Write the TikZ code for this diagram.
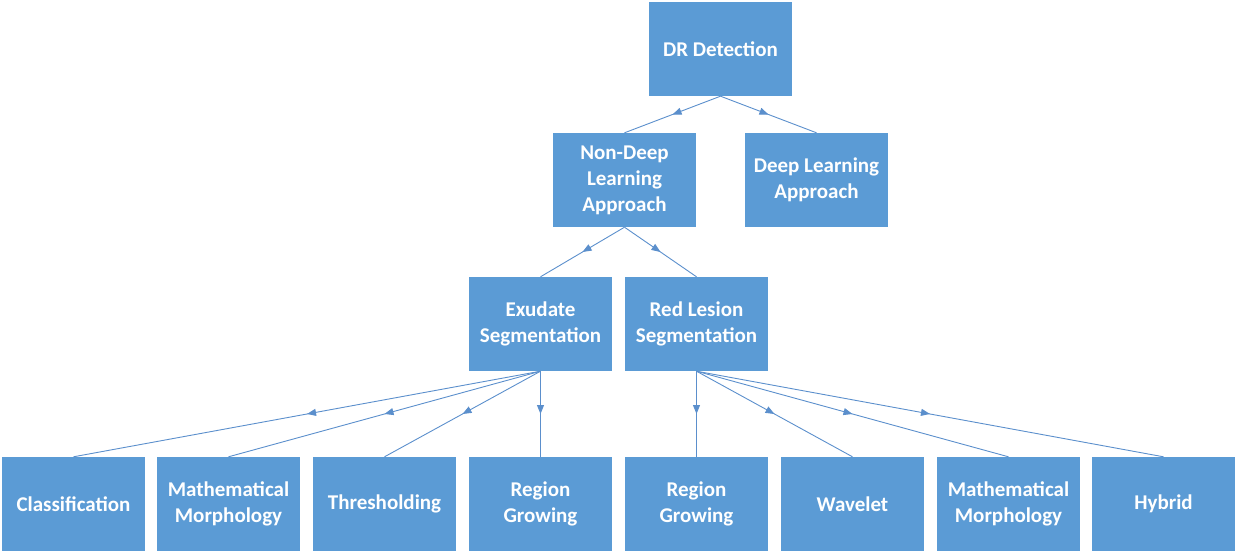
\documentclass[tikz,border=0pt]{standalone}
\usepackage{fontspec}
\setmainfont{Carlito}
\usetikzlibrary{arrows.meta, decorations.markings}
\definecolor{boxblue}{HTML}{5B9BD5}
\definecolor{lineblue}{HTML}{5B8FCC}

\begin{document}
\begin{tikzpicture}[x=1pt, y=-1pt,
  box/.style={fill=boxblue, draw=none, align=center, inner sep=0pt, minimum width=143pt, minimum height=94pt, text=white, font=\fontsize{21}{26}\selectfont\bfseries},
  link/.style={draw=lineblue, line width=0.9pt, postaction={decorate}, decoration={markings, mark=at position 0.5 with {\arrow[lineblue]{Triangle[length=9pt, width=7pt]}}}}]
\useasboundingbox (0,0) rectangle (1237,553);

%Root
\node (dr) at (720.5,49) [box] {DR Detection};

%Level 1
\node (nondeep) at (624.5,180) [box] {Non-Deep\\Learning\\Approach};
\node (deep) at (816.5,180) [box] {Deep Learning\\Approach};

%Level 2
\node (exudate) at (540.5,324) [box] {Exudate\\Segmentation};
\node (redlesion) at (696.5,324) [box] {Red Lesion\\Segmentation};

%Level 3
\node (classif) at (73.5,504) [box] {Classification};
\node (morph1) at (228.5,504) [box] {Mathematical\\Morphology};
\node (thresh) at (384.5,504) [box] {Thresholding};
\node (grow1) at (540.5,504) [box] {Region\\Growing};
\node (grow2) at (696.5,504) [box] {Region\\Growing};
\node (wavelet) at (852.5,504) [box] {Wavelet};
\node (morph2) at (1008.5,504) [box] {Mathematical\\Morphology};
\node (hybrid) at (1163.5,504) [box] {Hybrid};

\draw[link] (dr.south) -- (nondeep.north);
\draw[link] (dr.south) -- (deep.north);

\draw[link] (nondeep.south) -- (exudate.north);
\draw[link] (nondeep.south) -- (redlesion.north);

\draw[link] (exudate.south) -- (classif.north);
\draw[link] (exudate.south) -- (morph1.north);
\draw[link] (exudate.south) -- (thresh.north);
\draw[link] (exudate.south) -- (grow1.north);

\draw[link] (redlesion.south) -- (grow2.north);
\draw[link] (redlesion.south) -- (wavelet.north);
\draw[link] (redlesion.south) -- (morph2.north);
\draw[link] (redlesion.south) -- (hybrid.north);
\end{tikzpicture}
\end{document}
